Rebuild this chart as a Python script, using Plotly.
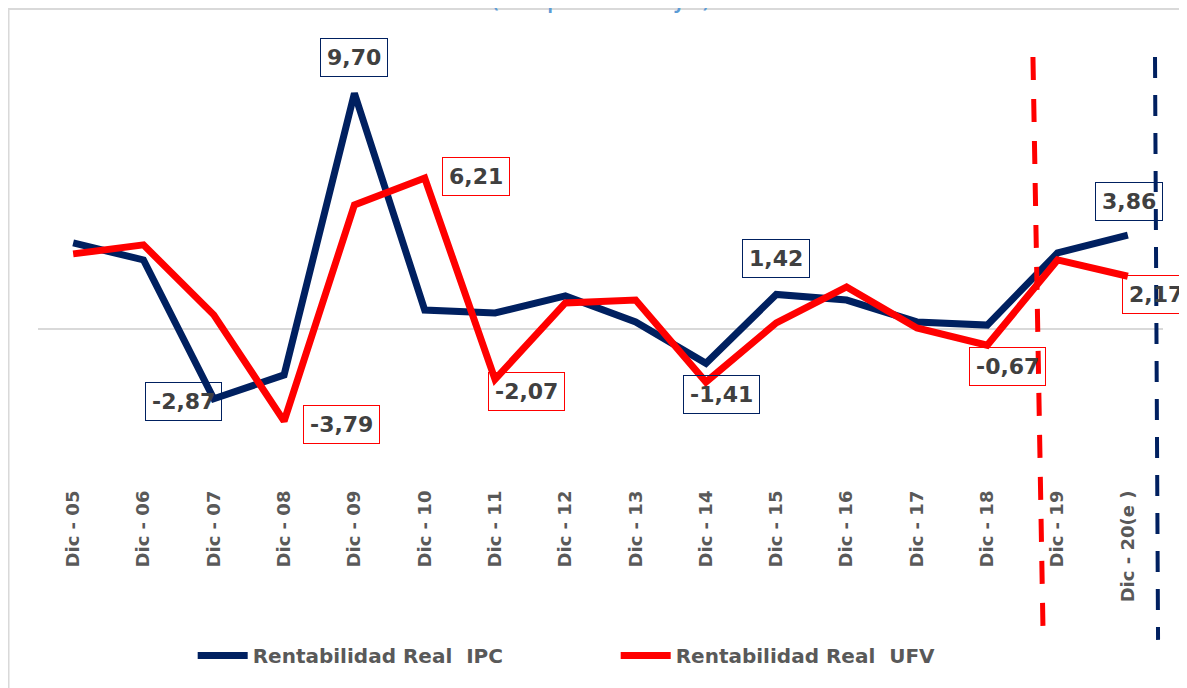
import plotly.graph_objects as go

# Categorias del eje X
periodos = ["Dic - 05", "Dic - 06", "Dic - 07", "Dic - 08", "Dic - 09", "Dic - 10",
            "Dic - 11", "Dic - 12", "Dic - 13", "Dic - 14", "Dic - 15", "Dic - 16",
            "Dic - 17", "Dic - 18", "Dic - 19", "Dic - 20(e )"]

# Rentabilidad real (en porcentaje)
rentIPC = [3.54, 2.84, -2.87, -1.89, 9.70, 0.78, 0.66, 1.36, 0.29, -1.41,
           1.42, 1.19, 0.29, 0.16, 3.13, 3.86]
rentUFV = [3.09, 3.46, 0.58, -3.79, 5.10, 6.21, -2.07, 1.07, 1.19, -2.18,
           0.25, 1.73, 0.04, -0.67, 2.84, 2.17]

# puntos con etiqueta: (indice, desplazamiento x, desplazamiento y)
etiquetasIPC = [(2, -30, -3), (4, 0, 36), (9, 16, -31), (10, 0, 36), (15, 1, 34)]
etiquetasUFV = [(3, 57, -3), (5, 51, 2), (6, 31, -12), (13, 20, -21), (15, 28, -18)]

AZUL = "#002060"
ROJO = "#FF0000"
FUENTE = "DejaVu Sans"

fig = go.Figure()
fig.add_scatter(x=periodos, y=rentIPC, name="Rentabilidad Real  IPC", mode="lines",
                line=dict(color=AZUL, width=7))
fig.add_scatter(x=periodos, y=rentUFV, name="Rentabilidad Real  UFV", mode="lines",
                line=dict(color=ROJO, width=7))


def etiquetar(serie, etiquetas, color):
    for i, dx, dy in etiquetas:
        fig.add_annotation(x=periodos[i], y=serie[i], text=f"{serie[i]:.2f}".replace(".", ","),
                           showarrow=False, xshift=dx, yshift=dy,
                           font=dict(family=FUENTE, size=22, color="#404040", weight=700),
                           bordercolor=color, borderwidth=1, borderpad=6)


etiquetar(rentIPC, etiquetasIPC, AZUL)
etiquetar(rentUFV, etiquetasUFV, ROJO)

# titulo (cortado en la parte superior)
fig.add_annotation(text="(En porcentaje)", xref="paper", yref="paper", x=0.5, y=1.0538,
                   xanchor="center", yanchor="bottom", showarrow=False,
                   font=dict(family=FUENTE, size=29, color="#5B9BD5"))

# marco del grafico
fig.add_shape(type="rect", xref="paper", yref="paper", x0=-0.0262, x1=1.1, y0=-0.6, y1=1.0695,
              line=dict(color="#D9D9D9", width=2), layer="below")

# lineas verticales punteadas
fig.add_shape(type="line", xref="paper", yref="paper", x0=0.8844, x1=0.8933, y0=0.962, y1=-0.316,
              line=dict(color=ROJO, width=5, dash="23px,19px"))
fig.add_shape(type="line", xref="paper", yref="paper", x0=0.9929, x1=0.9956, y0=0.962, y1=-0.345,
              line=dict(color=AZUL, width=4, dash="21px,17px"))

fig.update_layout(
    width=1179, height=680,
    margin=dict(l=30, r=24, t=32, b=202, autoexpand=False),
    paper_bgcolor="white", plot_bgcolor="white",
    showlegend=True,
    legend=dict(orientation="h", x=0.1375, xanchor="left", y=-0.38, yanchor="middle",
                font=dict(family=FUENTE, size=20, color="#595959", weight=700),
                entrywidth=358, itemwidth=50),
)
fig.update_xaxes(range=[-0.5, 15.5], showgrid=False, showline=False, ticks="", tickangle=-90,
                 tickfont=dict(family=FUENTE, size=18, color="#595959", weight=700))
fig.update_yaxes(range=[-6.46, 11.89], showgrid=False, showticklabels=False,
                 zeroline=True, zerolinecolor="#D9D9D9", zerolinewidth=2)

fig.write_html("out.html")
